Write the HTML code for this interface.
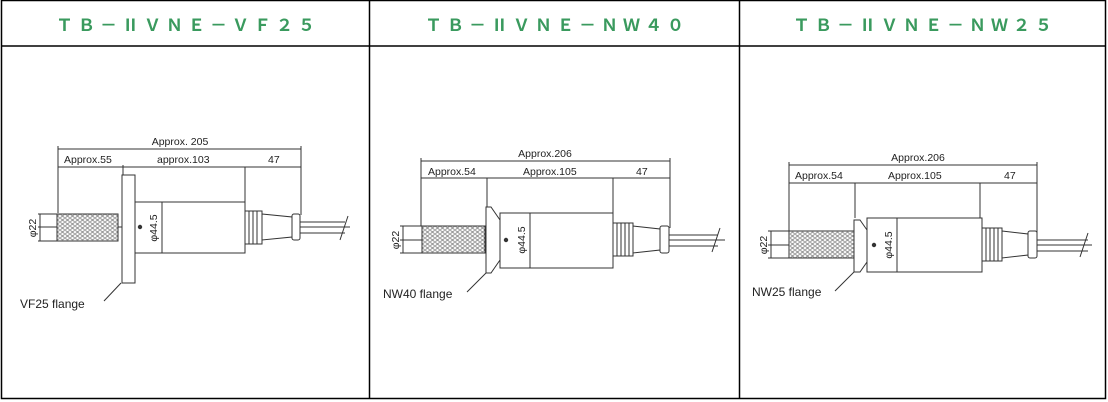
<!DOCTYPE html>
<html><head><meta charset="utf-8"><style>
html,body{margin:0;padding:0;background:#fff;width:1108px;height:402px;overflow:hidden}
svg{display:block}
.h{font-family:"Noto Sans CJK JP",sans-serif;font-size:17px;font-weight:bold;fill:#3a9a5e;letter-spacing:5px;text-anchor:middle}
.t{font-family:"Liberation Sans","DejaVu Sans",sans-serif;font-size:10.5px;fill:#222}
.b{font-size:12px}
.l{stroke:#333;stroke-width:1;fill:none}
.f{stroke:#333;stroke-width:1;fill:#fff}
</style></head><body>
<svg width="1108" height="402" viewBox="0 0 1108 402" xmlns="http://www.w3.org/2000/svg">
<defs>
<pattern id="hx" width="5" height="4" patternUnits="userSpaceOnUse">
<rect width="5" height="4" fill="#fff"/><ellipse cx="2.5" cy="2" rx="1.8" ry="1.4" fill="none" stroke="#777" stroke-width="0.8"/>
</pattern>
</defs>
<rect x="1.5" y="0.5" width="1104" height="398" fill="none" stroke="#000" stroke-width="1.5"/>
<line x1="1" y1="46" x2="1106" y2="46" stroke="#000" stroke-width="1.5"/>
<line x1="369.5" y1="0" x2="369.5" y2="399" stroke="#000" stroke-width="1.5"/>
<line x1="739.5" y1="0" x2="739.5" y2="399" stroke="#000" stroke-width="1.5"/>
<text class="h" x="188" y="31">ＴＢ－ⅡＶＮＥ－ＶＦ２５</text>
<text class="h" x="557" y="31">ＴＢ－ⅡＶＮＥ－ＮＷ４０</text>
<text class="h" x="925" y="31">ＴＢ－ⅡＶＮＥ－ＮＷ２５</text>

<!-- Panel 1 -->
<g>
<line class="l" x1="58" y1="149" x2="301" y2="149"/>
<line class="l" x1="58" y1="167" x2="301" y2="167"/>
<line class="l" x1="58" y1="146" x2="58" y2="213"/>
<line class="l" x1="301" y1="146" x2="301" y2="215"/>
<line class="l" x1="245" y1="167" x2="245" y2="202"/>
<line class="l" x1="123" y1="165" x2="123" y2="175"/>
<text class="t" x="180" y="145" text-anchor="middle">Approx. 205</text>
<text class="t" x="64" y="163">Approx.55</text>
<text class="t" x="157" y="163">approx.103</text>
<text class="t" x="268" y="163">47</text>
<line class="l" x1="38" y1="227" x2="350" y2="227" stroke="#999" stroke-width="0.7"/>
<rect x="57" y="214" width="61" height="27" fill="url(#hx)" stroke="#333"/>
<line class="l" x1="38" y1="214" x2="57" y2="214"/><line class="l" x1="38" y1="241" x2="57" y2="241"/>
<line class="l" x1="40" y1="214" x2="40" y2="241"/>
<text class="t" transform="translate(36,228) rotate(-90)" text-anchor="middle">φ22</text>
<rect class="f" x="122" y="175" width="13" height="108"/>
<rect class="f" x="135" y="202" width="110" height="51"/>
<line class="l" x1="162" y1="202" x2="162" y2="253"/>
<circle cx="140" cy="227" r="2.2" fill="#333"/>
<text class="t" transform="translate(157,228) rotate(-90)" text-anchor="middle">φ44.5</text>
<rect class="f" x="245" y="211" width="17" height="33"/>
<line class="l" x1="249" y1="211" x2="249" y2="244"/><line class="l" x1="253" y1="211" x2="253" y2="244"/><line class="l" x1="257" y1="211" x2="257" y2="244"/>
<path class="f" d="M262 214 L292 217 L292 237 L262 240 Z"/>
<rect class="f" x="292" y="214" width="8" height="26" rx="2"/>
<line class="l" x1="300" y1="222" x2="345" y2="222"/><line class="l" x1="300" y1="233" x2="345" y2="233"/>
<line class="l" x1="340" y1="240" x2="348" y2="216"/>
<line class="l" x1="121" y1="283" x2="104" y2="301"/>
<text class="t b" x="20" y="308">VF25 flange</text>
</g>

<!-- Panel 2 -->
<g>
<line class="l" x1="421" y1="161" x2="670" y2="161"/>
<line class="l" x1="421" y1="178" x2="670" y2="178"/>
<line class="l" x1="421" y1="158" x2="421" y2="226"/>
<line class="l" x1="670" y1="158" x2="670" y2="228"/>
<line class="l" x1="487" y1="178" x2="487" y2="207"/>
<line class="l" x1="613" y1="178" x2="613" y2="213"/>
<text class="t" x="545" y="157" text-anchor="middle">Approx.206</text>
<text class="t" x="428" y="175">Approx.54</text>
<text class="t" x="523" y="175">Approx.105</text>
<text class="t" x="636" y="175">47</text>
<line class="l" x1="400" y1="240" x2="725" y2="240" stroke="#666"/>
<rect x="422" y="226" width="63" height="27" fill="url(#hx)" stroke="#333"/>
<line class="l" x1="400" y1="226" x2="422" y2="226"/><line class="l" x1="400" y1="253" x2="422" y2="253"/>
<line class="l" x1="403" y1="226" x2="403" y2="253"/>
<text class="t" transform="translate(399,240) rotate(-90)" text-anchor="middle">φ22</text>
<path class="f" d="M486 207 L491 207 L500 220 L500 260 L491 273 L486 273 Z"/>
<rect class="f" x="500" y="213" width="113" height="55"/>
<line class="l" x1="530" y1="213" x2="530" y2="268"/>
<circle cx="506" cy="240" r="2.2" fill="#333"/>
<text class="t" transform="translate(525,240) rotate(-90)" text-anchor="middle">φ44.5</text>
<rect class="f" x="613" y="223" width="20" height="33"/>
<line class="l" x1="617" y1="223" x2="617" y2="256"/><line class="l" x1="621" y1="223" x2="621" y2="256"/><line class="l" x1="625" y1="223" x2="625" y2="256"/><line class="l" x1="629" y1="223" x2="629" y2="256"/>
<path class="f" d="M633 226 L660 229 L660 250 L633 253 Z"/>
<rect class="f" x="660" y="226" width="9" height="27" rx="2"/>
<line class="l" x1="669" y1="235" x2="718" y2="235"/><line class="l" x1="669" y1="246" x2="718" y2="246"/>
<line class="l" x1="712" y1="252" x2="720" y2="228"/>
<line class="l" x1="486" y1="273" x2="467" y2="292"/>
<text class="t b" x="383" y="298">NW40 flange</text>
</g>

<!-- Panel 3 -->
<g>
<line class="l" x1="789" y1="165" x2="1037" y2="165"/>
<line class="l" x1="789" y1="183" x2="1037" y2="183"/>
<line class="l" x1="789" y1="162" x2="789" y2="231"/>
<line class="l" x1="1037" y1="162" x2="1037" y2="233"/>
<line class="l" x1="855" y1="183" x2="855" y2="218"/>
<line class="l" x1="980" y1="183" x2="980" y2="218"/>
<text class="t" x="918" y="161" text-anchor="middle">Approx.206</text>
<text class="t" x="795" y="179">Approx.54</text>
<text class="t" x="888" y="179">Approx.105</text>
<text class="t" x="1004" y="179">47</text>
<line class="l" x1="768" y1="245" x2="1092" y2="245" stroke="#666"/>
<rect x="789" y="231" width="66" height="27" fill="url(#hx)" stroke="#333"/>
<line class="l" x1="768" y1="231" x2="789" y2="231"/><line class="l" x1="768" y1="258" x2="789" y2="258"/>
<line class="l" x1="771" y1="231" x2="771" y2="258"/>
<text class="t" transform="translate(767,245) rotate(-90)" text-anchor="middle">φ22</text>
<path class="f" d="M854 220 L860 220 L867 230 L867 262 L860 272 L854 272 Z"/>
<rect class="f" x="867" y="218" width="115" height="54"/>
<line class="l" x1="897" y1="218" x2="897" y2="272"/>
<circle cx="874" cy="245" r="2.2" fill="#333"/>
<text class="t" transform="translate(892,245) rotate(-90)" text-anchor="middle">φ44.5</text>
<rect class="f" x="982" y="228" width="20" height="33"/>
<line class="l" x1="986" y1="228" x2="986" y2="261"/><line class="l" x1="990" y1="228" x2="990" y2="261"/><line class="l" x1="994" y1="228" x2="994" y2="261"/><line class="l" x1="998" y1="228" x2="998" y2="261"/>
<path class="f" d="M1002 231 L1028 234 L1028 255 L1002 258 Z"/>
<rect class="f" x="1028" y="231" width="9" height="27" rx="2"/>
<line class="l" x1="1037" y1="240" x2="1088" y2="240"/><line class="l" x1="1037" y1="251" x2="1088" y2="251"/>
<line class="l" x1="1080" y1="257" x2="1088" y2="233"/>
<line class="l" x1="854" y1="272" x2="835" y2="291"/>
<text class="t b" x="752" y="296">NW25 flange</text>
</g>
</svg>
</body></html>
